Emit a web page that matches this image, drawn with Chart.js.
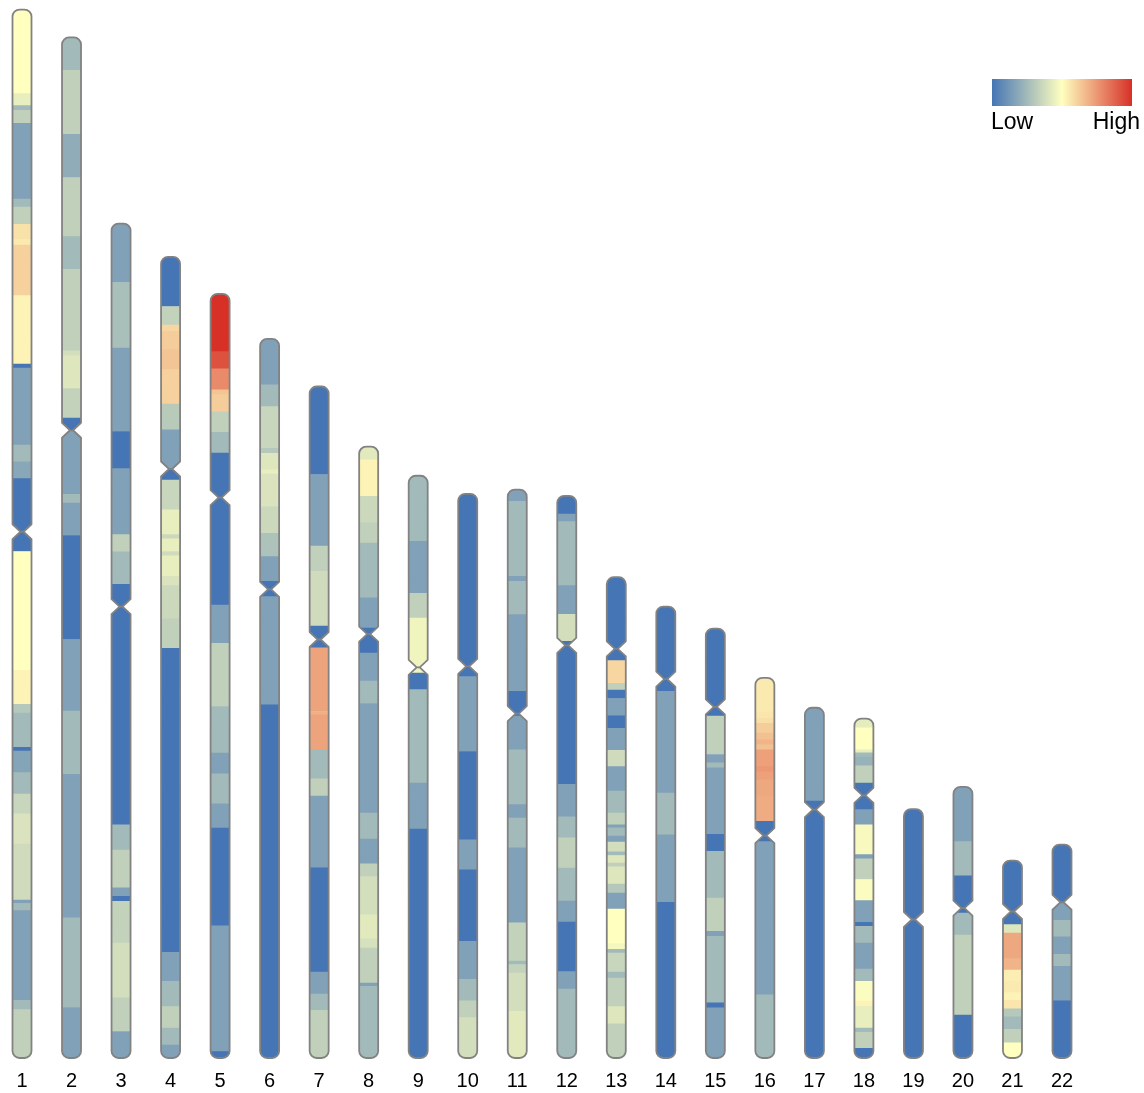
<!DOCTYPE html>
<html><head><meta charset="utf-8">
<script src="https://cdn.jsdelivr.net/npm/chart.js@4.4.1/dist/chart.umd.min.js"></script>
<style>html,body{margin:0;padding:0;background:#fff;}#wrap{width:1144px;height:1093px;}</style>
</head><body><div id="wrap"><canvas id="c" width="1144" height="1093"></canvas></div>
<script>
// Chromosome names, lengths (Mb) and centromere positions (Mb from p-ter)
const chromosomes = ['1','2','3','4','5','6','7','8','9','10','11','12','13','14','15','16','17','18','19','20','21','22'];
const chromLengths = [249, 242.4, 198.2, 190.3, 181.5, 170.8, 159.5, 145.2, 138.3, 134, 135, 133.5, 114.2, 107.2, 102, 90.3, 83.2, 80.6, 59.1, 64.4, 46.9, 50.7];
const centromeres = [124, 93.3, 91, 50.4, 48.4, 59.5, 60.1, 44.5, 45.5, 41, 53.2, 35.5, 17, 17.2, 18.6, 37.5, 24.2, 18.2, 26.2, 28.8, 12.1, 13.7];

// Segment boundaries (Mb from p-ter) and relative level (0 = Low, 50 = mid, 100 = High)
const edges1 = [0, 19.9, 22.8, 23.9, 27, 45, 46.9, 51, 54.6, 55.9, 67.9, 84.2, 85.1, 103.4, 107.4, 111.4, 128.7, 156.9, 165, 167.1, 175.2, 176.1, 181.2, 186.3, 191, 198.2, 211.5, 212.3, 214, 235.3, 237.5, 249];
const levels1 = [50, 44, 25, 33, 16, 25, 33, 57, 55, 61, 53, 0, 16, 25, 18, 0, 50, 53, 30, 25, 0, 17, 25, 35, 40, 37, 16, 25, 16, 25, 33];
const edges2 = [0, 7.8, 23, 33.3, 47.3, 55.1, 74.4, 75.6, 83.4, 90.4, 93.3, 108.5, 110.6, 118.3, 143, 160, 175, 209.1, 230.4, 242.4];
const levels2 = [25, 33, 20, 33, 25, 33, 38, 41, 34, 0, 16, 25, 16, 0, 16, 25, 16, 25, 16];
const edges3 = [0, 14, 29.6, 49.4, 58.2, 73.9, 78, 85.7, 142.8, 148.8, 157.8, 159.8, 161, 170.9, 183.9, 191.9, 198.2];
const levels3 = [16, 27, 16, 0, 16, 33, 25, 0, 25, 33, 16, 0, 34, 38, 33, 16];
const edges4 = [0, 11.8, 16.2, 17.7, 22.1, 26.8, 35, 41.1, 50.4, 53, 60.1, 66, 67, 70, 71, 75.9, 78.1, 86, 93, 165.2, 172.1, 178.1, 183.2, 187.2, 190.3];
const levels4 = [0, 34, 60, 62, 64, 61, 31, 16, 0, 35, 44, 36, 44, 37, 44, 40, 36, 33, 0, 16, 25, 33, 25, 16];
const edges5 = [0, 13.7, 17.8, 22.8, 24, 28, 32.9, 37.8, 73.9, 83, 98, 109.1, 114, 121.1, 126.9, 150.1, 180, 181.5];
const levels5 = [100, 92, 78, 64, 62, 33, 25, 0, 16, 33, 25, 16, 25, 16, 0, 16, 0];
const edges6 = [0, 10.9, 16.1, 26, 27.2, 31.1, 32.1, 39.8, 46.2, 51.7, 57.6, 61.2, 86.9, 170.8];
const levels6 = [16, 25, 35, 30, 41, 44, 40, 36, 28, 16, 0, 16, 0];
const edges7 = [0, 20.9, 37.9, 43.9, 56.9, 62.1, 77.2, 78, 86.2, 93.2, 97.3, 114.3, 139.1, 144.3, 148.2, 159.5];
const levels7 = [0, 16, 33, 37, 0, 72, 69, 72, 25, 33, 16, 0, 16, 25, 33];
const edges8 = [0, 3.1, 11.8, 18.1, 22.9, 35.9, 43.1, 49, 55.7, 61, 87, 93.2, 99.1, 102.1, 111.2, 116.9, 119.1, 127.4, 128.2, 145.2];
const levels8 = [42, 53, 36, 33, 25, 16, 0, 16, 25, 16, 25, 16, 33, 38, 42, 39, 33, 16, 25];
const edges9 = [0, 15.6, 27.9, 33.8, 46.9, 50.8, 73, 83.9, 138.3];
const levels9 = [25, 16, 33, 46, 0, 25, 16, 0];
const edges10 = [0, 43.4, 61.2, 82.2, 89.3, 106.3, 115.3, 120.4, 124.4, 134];
const levels10 = [0, 16, 0, 16, 0, 16, 25, 33, 38];
const edges11 = [0, 2.8, 20.6, 21.8, 29.7, 47.9, 53.8, 61.8, 74.8, 78, 85.1, 102.9, 112, 112.8, 114.8, 123.9, 135];
const levels11 = [16, 25, 16, 25, 16, 0, 16, 25, 16, 25, 16, 34, 25, 34, 38, 42];
const edges12 = [0, 4.3, 6.1, 21.3, 28.1, 34.5, 68.5, 76.2, 81.2, 88.4, 96.2, 101.2, 113, 117.1, 133.5];
const levels12 = [0, 16, 25, 16, 38, 0, 16, 25, 33, 25, 16, 0, 16, 25];
const edges13 = [0, 19.8, 25.2, 26.8, 28.8, 32.9, 35.9, 41.1, 45, 50.8, 56, 58.8, 59.5, 61.5, 62.9, 65.2, 66.1, 67.9, 68.8, 72.9, 75, 78.8, 87, 88.4, 89.3, 93.8, 95.2, 102, 106.1, 114.2];
const levels13 = [0, 60, 33, 0, 16, 0, 16, 37, 16, 25, 33, 16, 25, 16, 38, 25, 41, 33, 41, 30, 16, 50, 47, 25, 35, 25, 33, 41, 33];
const edges14 = [0, 20.1, 44.3, 54.2, 70.2, 107.2];
const levels14 = [0, 16, 25, 16, 0];
const edges15 = [0, 20.8, 29.9, 31.9, 33.1, 48.9, 52.9, 64, 71.9, 73.1, 88.9, 90.1, 102];
const levels15 = [0, 33, 16, 25, 16, 0, 25, 33, 16, 25, 0, 16];
const edges16 = [0, 8, 9.6, 10.8, 13.1, 14.7, 15.9, 17.1, 21.1, 22.3, 24.2, 28.2, 34.1, 38.9, 75.3, 90.3];
const levels16 = [55, 56, 58, 62, 65, 68, 65, 73, 75, 73, 71, 70, 0, 16, 25];
const edges17 = [0, 22.2, 83.2];
const levels17 = [16, 0];
const edges18 = [0, 2.2, 7.4, 8.1, 9.1, 11.2, 15.3, 21.6, 25.2, 32.3, 33.3, 38.2, 43.2, 48.4, 49.3, 53.3, 59.5, 62.4, 67.1, 68.3, 73.5, 74.5, 78.3, 80.6];
const levels18 = [43, 50, 44, 25, 22, 33, 0, 16, 48, 16, 33, 49, 16, 0, 25, 16, 25, 49, 53, 44, 25, 33, 0];
const edges19 = [0, 59.1];
const levels19 = [0];
const edges20 = [0, 13, 21.1, 30, 35.2, 54.2, 64.4];
const levels20 = [16, 25, 0, 25, 33, 0];
const edges21 = [0, 15.2, 17.2, 23.3, 26, 28.7, 31.4, 33.2, 35.2, 37.1, 40.1, 43.3, 46.9];
const levels21 = [0, 41, 71, 68, 54, 55, 53, 56, 30, 25, 33, 50];
const edges22 = [0, 13.7, 18, 21.9, 26.1, 28.9, 37.1, 50.7];
const levels22 = [0, 16, 25, 16, 25, 16, 0];

const bandEdges = [edges1, edges2, edges3, edges4, edges5, edges6, edges7, edges8, edges9, edges10, edges11, edges12, edges13, edges14, edges15, edges16, edges17, edges18, edges19, edges20, edges21, edges22];
const bandLevels = [levels1, levels2, levels3, levels4, levels5, levels6, levels7, levels8, levels9, levels10, levels11, levels12, levels13, levels14, levels15, levels16, levels17, levels18, levels19, levels20, levels21, levels22];

const legendLabels = ['Low', 'High'];

// Colour scale: blue -> pale yellow -> red
const LOW = [69, 117, 180], MID = [255, 255, 191], HIGH = [215, 48, 39];
function levelColor(v) {
  let a, b, f;
  if (v <= 50) { a = LOW; b = MID; f = v / 50; } else { a = MID; b = HIGH; f = (v - 50) / 50; }
  const c = a.map((x, i) => Math.round(x + (b[i] - x) * f));
  return 'rgb(' + c.join(',') + ')';
}

const points = [];
const colors = [];
chromosomes.forEach((name, i) => {
  const L = chromLengths[i], e = bandEdges[i], lv = bandLevels[i];
  for (let k = 0; k < lv.length; k++) {
    points.push({ x: name, y: [L - e[k + 1], L - e[k]] });
    colors.push(levelColor(lv[k]));
  }
});

const HALF_W = 9.5, CAP_R = 7, NOTCH_D = 7.5, TIP = 1.5;
function chromPath(ctx, xc, yT, yC, yB) {
  const w = HALF_W, r = CAP_R, d = NOTCH_D, t = TIP;
  ctx.moveTo(xc - w, yC - d);
  ctx.lineTo(xc - w, yT + r);
  ctx.arcTo(xc - w, yT, xc, yT, r);
  ctx.arcTo(xc + w, yT, xc + w, yT + r, r);
  ctx.lineTo(xc + w, yC - d);
  ctx.lineTo(xc + t, yC);
  ctx.lineTo(xc - t, yC);
  ctx.closePath();
  ctx.moveTo(xc - t, yC);
  ctx.lineTo(xc + t, yC);
  ctx.lineTo(xc + w, yC + d);
  ctx.lineTo(xc + w, yB - r);
  ctx.arcTo(xc + w, yB, xc, yB, r);
  ctx.arcTo(xc - w, yB, xc - w, yB - r, r);
  ctx.lineTo(xc - w, yC + d);
  ctx.closePath();
}
function allChromPaths(chart) {
  const ctx = chart.ctx, xs = chart.scales.x, ys = chart.scales.y;
  ctx.beginPath();
  chromosomes.forEach((name, i) => {
    const L = chromLengths[i];
    chromPath(ctx, xs.getPixelForValue(i), ys.getPixelForValue(L), ys.getPixelForValue(L - centromeres[i]), ys.getPixelForValue(0));
  });
}

const ideogramPlugin = {
  id: 'ideogram',
  beforeDatasetsDraw(chart) {
    const ctx = chart.ctx;
    ctx.save();
    allChromPaths(chart);
    ctx.clip();
  },
  afterDatasetsDraw(chart) {
    const ctx = chart.ctx;
    ctx.restore();
    ctx.save();
    allChromPaths(chart);
    ctx.lineWidth = 1.8;
    ctx.strokeStyle = '#828282';
    ctx.lineJoin = 'round';
    ctx.stroke();
    ctx.restore();
  },
  afterDraw(chart) {
    const ctx = chart.ctx;
    ctx.save();
    const x0 = 992, x1 = 1132, y0 = 79, y1 = 106;
    const g = ctx.createLinearGradient(x0, 0, x1, 0);
    g.addColorStop(0, levelColor(0));
    g.addColorStop(0.25, levelColor(25));
    g.addColorStop(0.5, levelColor(50));
    g.addColorStop(0.75, levelColor(75));
    g.addColorStop(1, levelColor(100));
    ctx.fillStyle = g;
    ctx.fillRect(x0, y0, x1 - x0, y1 - y0);
    ctx.fillStyle = '#000';
    ctx.font = '23px "Liberation Sans", Arial, sans-serif';
    ctx.textBaseline = 'alphabetic';
    ctx.textAlign = 'left';
    ctx.fillText(legendLabels[0], 991, 129);
    ctx.textAlign = 'right';
    ctx.fillText(legendLabels[1], 1140, 129);
    ctx.restore();
  }
};

new Chart(document.getElementById('c'), {
  type: 'bar',
  data: {
    labels: chromosomes,
    datasets: [{
      data: points,
      backgroundColor: colors,
      borderWidth: 0,
      barThickness: 20,
      clip: false
    }]
  },
  options: {
    responsive: false,
    devicePixelRatio: 1,
    animation: false,
    layout: { padding: { left: 22, right: 82, top: 0, bottom: 0 } },
    plugins: { legend: { display: false }, tooltip: { enabled: false } },
    scales: {
      x: {
        type: 'category',
        offset: false,
        grid: { display: false, drawTicks: false },
        border: { display: false },
        ticks: { color: '#000', padding: 0, autoSkip: false, maxRotation: 0, font: { family: '"Liberation Sans", Arial, sans-serif', size: 20 } }
      },
      y: { display: false, min: -2.61, max: 251.3 }
    }
  },
  plugins: [ideogramPlugin]
});
</script></body></html>
